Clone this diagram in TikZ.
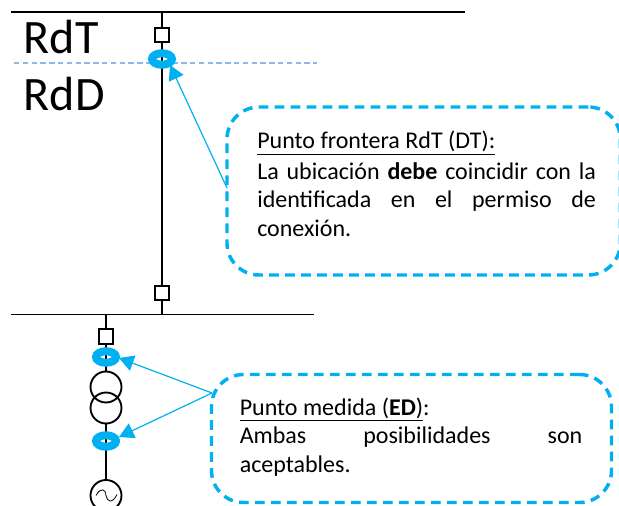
\documentclass[tikz,border=0pt]{standalone}
\usepackage{fontspec}
\setmainfont{Carlito}
\usetikzlibrary{arrows.meta,calc,shapes.geometric}
\definecolor{cy}{HTML}{00B0F0}
\definecolor{dl}{HTML}{8DB8E8}
\tikzset{
  wire/.style={line width=1.4pt,black},
  brk/.style={draw=black,line width=1.3pt,fill=white,minimum size=11pt,inner sep=0pt,outer sep=0pt},
  ring/.style={draw=cy,line width=6pt,ellipse,minimum width=15pt,minimum height=8.6pt,inner sep=0pt,outer sep=0pt},
  coil/.style={draw=black,line width=1.4pt,circle,minimum size=23.25pt,inner sep=0pt,outer sep=0pt},
  callout/.style={draw=cy,line width=2.6pt,rounded corners=24pt,dash pattern=on 7.2pt off 4.8pt,inner sep=0pt,outer sep=0pt},
  ptr/.style={draw=cy,line width=.9pt,-{Triangle[length=11pt,width=12pt]}},
  big/.style={font=\fontsize{36}{40}\selectfont,inner sep=0pt,anchor=base west},
  body/.style={font=\fontsize{18}{21.4}\selectfont,inner sep=0pt,anchor=north west,align=left},
}
\newcommand{\jl}[2]{\makebox[#1][s]{#2}}
\begin{document}
\begin{tikzpicture}[x=.75pt,y=-.75pt]
\useasboundingbox (0,0) rectangle (619,506);
% buses
\coordinate (b1l) at (11,12); \coordinate (b1r) at (465,12);
\coordinate (b1t) at (162,12); \coordinate (b2t) at (162,314.5);
\coordinate (b2l) at (11,314.5); \coordinate (b2r) at (314,314.5);
\coordinate (g1) at (106,314.5);
\draw[wire] (b1l) -- (b1r);
\draw[wire] (b2l) -- (b2r);
\draw[wire] (b1t) -- (b2t);
% border
\coordinate (dl1) at (14,63); \coordinate (dl2) at (317,63);
\draw[dl,line width=1pt,dash pattern=on 4pt off 2.6pt] (dl1) -- (dl2);
% breakers
\node[brk] (s1) at (162,35) {};
\node[brk] (s2) at (162,293) {};
\node[brk] (s3) at (106,336.5) {};
% transformer and generator
\node[coil] (t1) at (106,387) {};
\node[coil] (t2) at (106,408) {};
\node[coil] (gen) at (106,495.5) {};
\draw[wire] (g1) -- (s3);
\draw[wire] (s3) -- (t1);
\draw[wire] (t2) -- (gen);
\draw[black,line width=.6pt] ($(gen.center)+(-10,0)$) .. controls ($(gen.center)+(-5,-9)$) and ($(gen.center)+(0,-6)$) .. (gen.center) .. controls ($(gen.center)+(1,6)$) and ($(gen.center)+(6,9)$) .. ($(gen.center)+(11,-1)$);
% rings
\node[ring] (r1) at (162,59) {};
\node[ring] (r2) at (106,357) {};
\node[ring] (r3) at (106,441) {};
\coordinate (r1p) at ($(r1)+(8,6)$);
\coordinate (r2p) at ($(r2)+(13,1)$);
\coordinate (r3p) at ($(r3)+(13,-4)$);
% labels
\node[big] (rdt) at (23.5,54) {RdT};
\node[big] (rdd) at (23.5,110.5) {RdD};
% callouts
\node[callout,minimum width=295pt,minimum height=126pt,anchor=north west] (c1) at (227,107) {};
\node[callout,minimum width=300pt,minimum height=96pt,anchor=north west] (c2) at (211.5,374.5) {};
\coordinate (c1a) at (227,188);
\coordinate (c2a) at (212,393);
\draw[ptr] (c1a) -- (r1p);
\draw[ptr] (c2a) -- (r2p);
\draw[ptr] (c2a) -- (r3p);
% texts
\node[body] (t1a) at (257,131) {\underline{Punto frontera RdT (DT):}\\[1.5pt]
\jl{254pt}{La ubicación \textbf{debe} coincidir con la}\\
\jl{254pt}{identificada en el permiso de}\\
conexión.};
\node[body] (t2a) at (239.5,397.5) {\underline{Punto medida (\textbf{ED})}:\\
\jl{257pt}{Ambas posibilidades son}\\
aceptables.};
\end{tikzpicture}
\end{document}
